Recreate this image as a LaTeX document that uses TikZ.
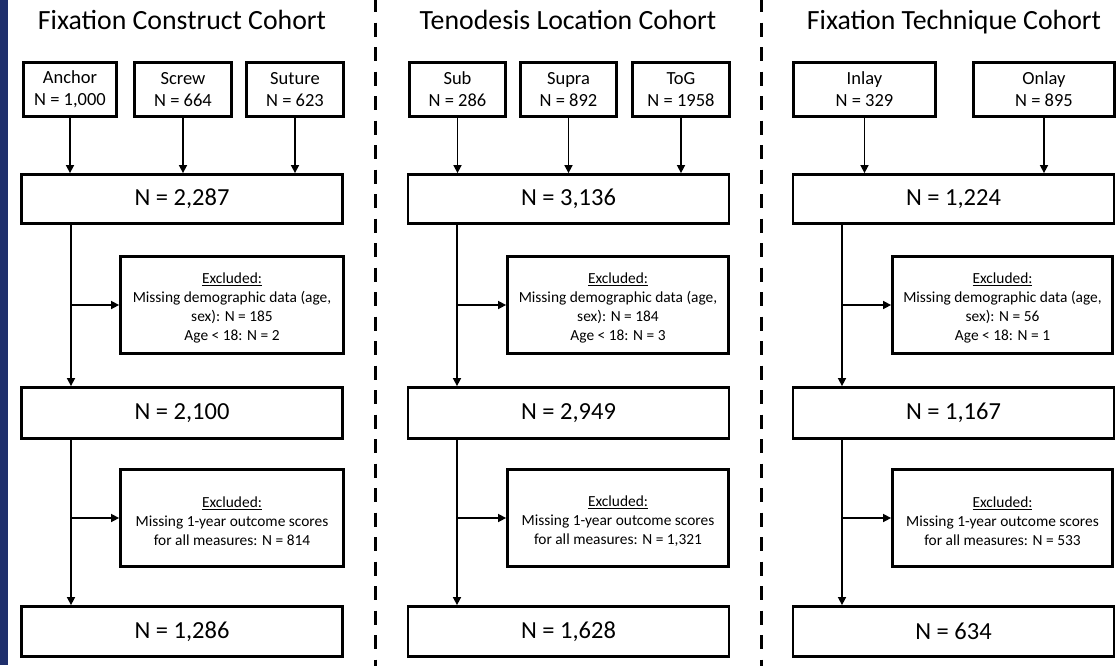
\documentclass[tikz,border=0pt]{standalone}
\usepackage{fontspec}
\setmainfont{Carlito}
\usetikzlibrary{arrows.meta}
\definecolor{strip}{RGB}{31,47,108}
\newcommand{\exstrut}{\rule{0pt}{17pt}}
\begin{document}
\begin{tikzpicture}[x=1pt,y=-1pt,
  box/.style={draw, line width=2.8pt, inner sep=0pt, align=center},
  topbox/.style={box, minimum height=54pt, font=\fontsize{18.5}{22}\selectfont},
  mainbox/.style={box, minimum width=321pt, font=\fontsize{24.5}{28}\selectfont},
  exbox/.style={box, minimum height=97pt, font=\fontsize{15.4}{19}\selectfont},
  title/.style={font=\fontsize{27.8}{32}\selectfont, anchor=base},
  arr/.style={line width=1.6pt, -{Triangle[length=8pt,width=8pt]}},
  divider/.style={line width=3pt, dash pattern=on 14pt off 10.5pt}]
\useasboundingbox (0,0) rectangle (1117,665);
\fill[strip] (0,0) rectangle (8,665);
\draw[divider] (375,-2) -- (375,667);
\draw[divider] (761,-2) -- (761,667);
% titles
\node[title] (t1) at (182,29) {Fixation Construct Cohort};
\node[title] (t2) at (568,29) {Tenodesis Location Cohort};
\node[title] (t3) at (954,29) {Fixation Technique Cohort};
% ---------- column 1
\node[topbox, minimum width=93pt] (anchor) at (70,89.5) {Anchor\\N = 1,000};
\node[topbox, minimum width=97pt] (screw) at (183,89.5) {Screw\\N = 664};
\node[topbox, minimum width=97pt] (suture) at (295,89.5) {Suture\\N = 623};
\node[mainbox, minimum height=49pt] (m1a) at (182,199) {N = 2,287};
\node[exbox, minimum width=223pt] (e1a) at (232,305) {\exstrut\underline{Excluded:}\\Missing demographic data (age,\\sex): N = 185\\Age < 18: N = 2};
\node[mainbox, minimum height=51pt] (m1b) at (182,413) {N = 2,100};
\node[exbox, minimum width=223pt] (e1b) at (232,518) {\exstrut\underline{Excluded:}\\Missing 1-year outcome scores\\for all measures: N = 814};
\node[mainbox, minimum height=50pt] (m1c) at (182,631.5) {N = 1,286};
\coordinate (v1) at (71,0);
\foreach \n in {anchor,screw,suture} \draw[arr] (\n) -- (\n |- m1a.north);
\draw[arr] (m1a.south -| v1) -- (m1b.north -| v1);
\draw[arr] (m1b.south -| v1) -- (m1c.north -| v1);
\draw[arr] (v1 |- e1a.west) -- (e1a.west);
\draw[arr] (v1 |- e1b.west) -- (e1b.west);
% ---------- column 2
\node[topbox, minimum width=96pt] (sub) at (457.5,89.5) {Sub\\N = 286};
\node[topbox, minimum width=96pt] (supra) at (568.5,89.5) {Supra\\N = 892};
\node[topbox, minimum width=97pt] (tog) at (681,89.5) {ToG\\N = 1958};
\node[mainbox, minimum height=49pt] (m2a) at (568.5,199) {N = 3,136};
\node[exbox, minimum width=221pt] (e2a) at (618,305) {\exstrut\underline{Excluded:}\\Missing demographic data (age,\\sex): N = 184\\Age < 18: N = 3};
\node[mainbox, minimum height=51pt] (m2b) at (568.5,413) {N = 2,949};
\node[exbox, minimum width=221pt] (e2b) at (618,518) {\exstrut\underline{Excluded:}\\Missing 1-year outcome scores\\for all measures: N = 1,321};
\node[mainbox, minimum height=50pt] (m2c) at (568.5,631.5) {N = 1,628};
\coordinate (v2) at (457,0);
\foreach \n in {sub,supra,tog} \draw[arr] (\n) -- (\n |- m2a.north);
\draw[arr] (m2a.south -| v2) -- (m2b.north -| v2);
\draw[arr] (m2b.south -| v2) -- (m2c.north -| v2);
\draw[arr] (v2 |- e2a.west) -- (e2a.west);
\draw[arr] (v2 |- e2b.west) -- (e2b.west);
% ---------- column 3
\node[topbox, minimum width=142pt] (inlay) at (864.5,89.5) {Inlay\\N = 329};
\node[topbox, minimum width=141pt] (onlay) at (1044,89.5) {Onlay\\N = 895};
\node[mainbox, minimum height=49pt] (m3a) at (953.5,199) {N = 1,224};
\node[exbox, minimum width=220pt] (e3a) at (1002.5,305) {\exstrut\underline{Excluded:}\\Missing demographic data (age,\\sex): N = 56\\Age < 18: N = 1};
\node[mainbox, minimum height=51pt] (m3b) at (953.5,413) {N = 1,167};
\node[exbox, minimum width=220pt] (e3b) at (1002.5,518) {\exstrut\underline{Excluded:}\\Missing 1-year outcome scores\\for all measures: N = 533};
\node[mainbox, minimum height=50pt] (m3c) at (953.5,631.5) {N = 634};
\coordinate (v3) at (842,0);
\foreach \n in {inlay,onlay} \draw[arr] (\n) -- (\n |- m3a.north);
\draw[arr] (m3a.south -| v3) -- (m3b.north -| v3);
\draw[arr] (m3b.south -| v3) -- (m3c.north -| v3);
\draw[arr] (v3 |- e3a.west) -- (e3a.west);
\draw[arr] (v3 |- e3b.west) -- (e3b.west);
\end{tikzpicture}
\end{document}
